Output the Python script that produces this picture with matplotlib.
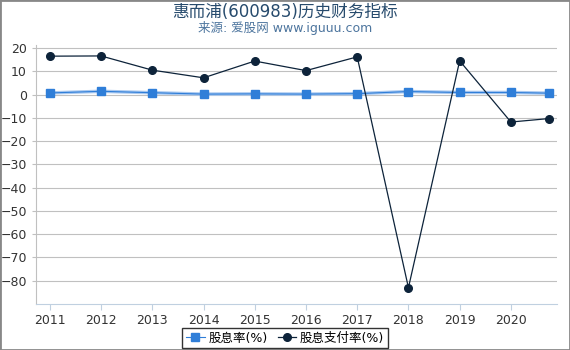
import numpy as np
import matplotlib.pyplot as plt

plt.rcParams['font.family'] = ['DejaVu Sans', 'Noto Sans CJK SC']

# data
x = [2011, 2012, 2013, 2014, 2015, 2016, 2017, 2018, 2019, 2020, 2020.75]
years = [2011, 2012, 2013, 2014, 2015, 2016, 2017, 2018, 2019, 2020]
yield_rate = [0.7, 1.4, 0.8, 0.2, 0.3, 0.2, 0.4, 1.3, 0.9, 0.9, 0.6]
payout_rate = [16.5, 16.6, 10.5, 7.2, 14.4, 10.3, 16.2, -83.0, 14.5, -11.8, -10.3]
yticks = [20, 10, 0, -10, -20, -30, -40, -50, -60, -70, -80]

fig = plt.figure(figsize=(5.7, 3.5), dpi=100)
ax = fig.add_axes([36/570, 1 - 304/350, (557-36)/570, (304-45)/350])

# blue line has a pale halo in the reference
ax.plot(x, yield_rate, color='#a8c8f0', lw=2.5, zorder=2)
ax.plot(x, yield_rate, color='#2f7ed8', lw=0.8, marker='s', ms=5.5,
        label='股息率(%)', zorder=3)
ax.plot(x, payout_rate, color='#0d233a', lw=0.9, marker='o', ms=5.5,
        label='股息支付率(%)', zorder=4)

ax.set_xlim(2010.73, 2020.9)
ax.set_ylim(-90, 21.3)
ax.set_xticks(years)
ax.set_yticks(yticks)
ax.tick_params(labelsize=9, colors='#333333', length=4)
ax.tick_params(axis='x', color='#c0d0e0')
ax.tick_params(axis='y', color='#c0c0c0', length=3)
ax.grid(axis='y', color='#c0c0c0', lw=0.8)
ax.set_axisbelow(True)
for s in ['top', 'right']:
    ax.spines[s].set_visible(False)
ax.spines['left'].set_color('#c0c0c0')
ax.spines['bottom'].set_color('#c0d0e0')

fig.text(0.5, 0.965, '惠而浦(600983)历史财务指标', ha='center', va='center',
         fontsize=12, color='#274b6d')
fig.text(0.5, 0.92, '来源: 爱股网 www.iguuu.com', ha='center', va='center',
         fontsize=9, color='#4d759e')

leg = fig.legend(loc='center', bbox_to_anchor=(0.5, 1 - 338/350), ncol=2,
                 fontsize=9, frameon=True, fancybox=False, handlelength=1.5,
                 handletextpad=0.3, columnspacing=0.8, borderpad=0.3)
leg.get_frame().set_edgecolor('black')
leg.get_frame().set_linewidth(1)

fig.patches.append(plt.Rectangle((0, 0), 1, 1, transform=fig.transFigure,
                                 fill=False, edgecolor='#888888', lw=2))

fig.savefig('out.png', dpi=100)
